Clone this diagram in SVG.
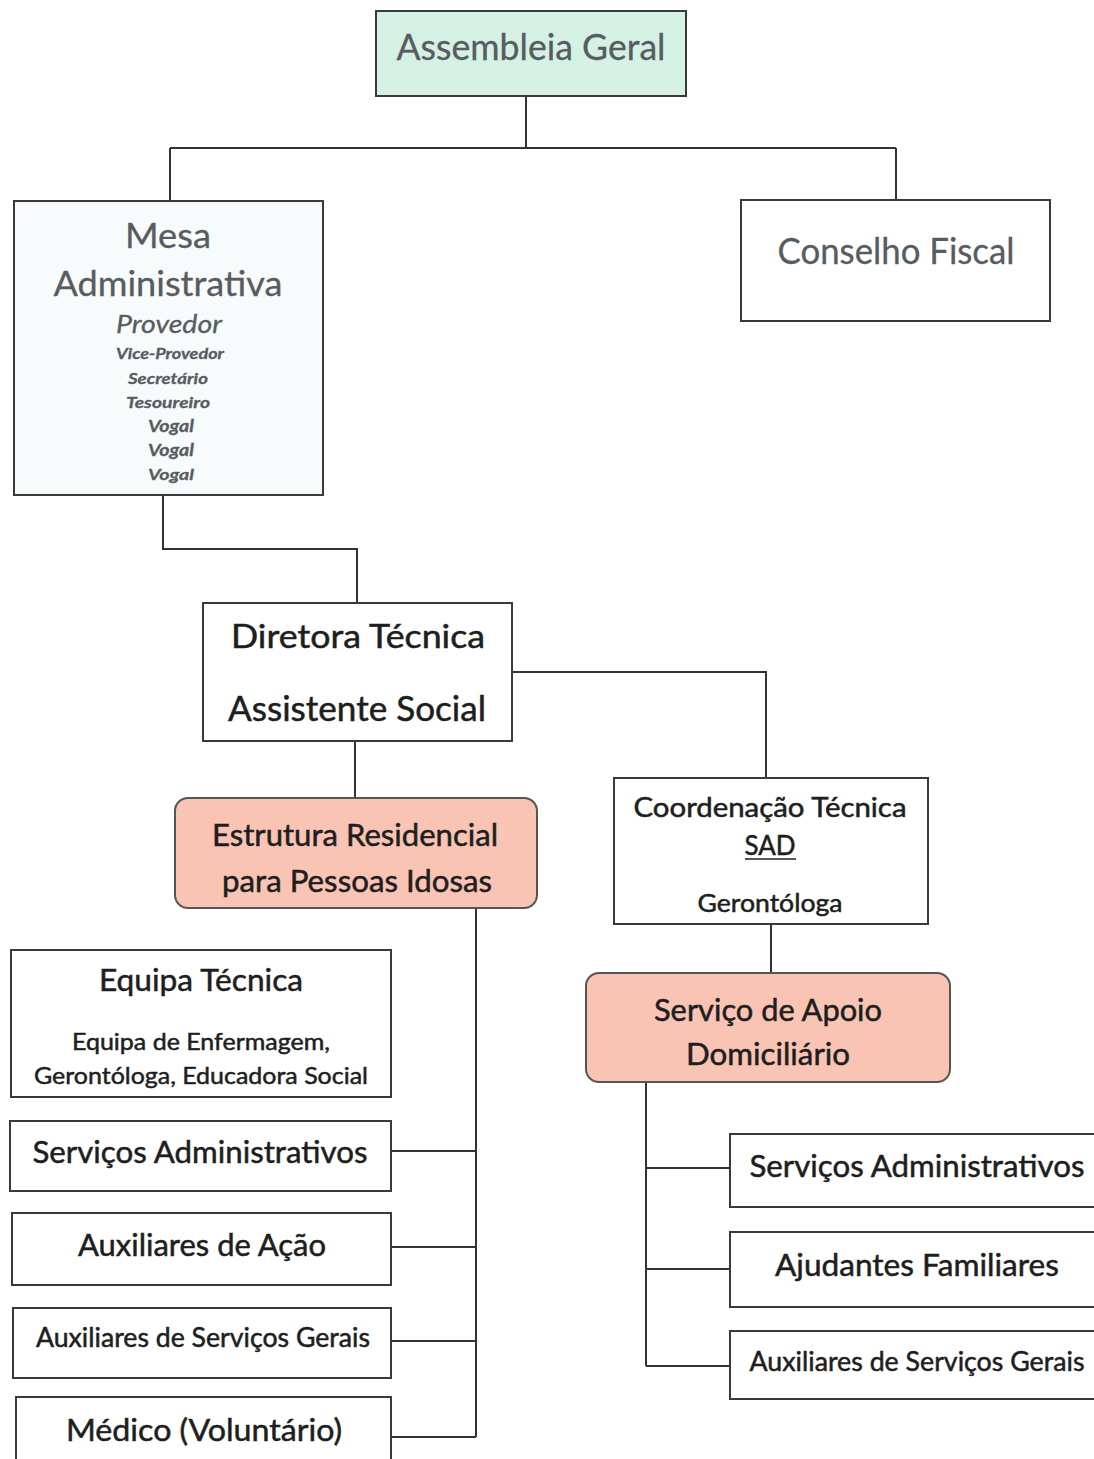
<svg xmlns="http://www.w3.org/2000/svg" width="1094" height="1459" viewBox="0 0 1094 1459">
<style>
.box{fill:#ffffff;stroke:#3a3a3a;stroke-width:2}
.green{fill:#d5f1e4}
.mesa{fill:#f8fbfb}
.salmon{fill:#f9c4b3;stroke:#555;stroke-width:2}
.t{font-family:Lato,"Open Sans","Liberation Sans",sans-serif;text-anchor:middle;fill:#1e1e1e;stroke:#1e1e1e;stroke-width:0.5}
.g{fill:#575c62;stroke:#575c62;stroke-width:0.3}
.it{font-style:italic}
.con{fill:none;stroke:#333;stroke-width:2}
</style>
<rect width="1094" height="1459" fill="#ffffff"/>
<g id="connectors">
<path class="con" d="M526 96V148M170 148H896M170 148V201M896 148V200"/>
<path class="con" d="M163 495V549H357V603"/>
<path class="con" d="M512 672H766V778"/>
<path class="con" d="M355 741V798"/>
<path class="con" d="M476 908V1437M391 1151H476M391 1247H476M391 1341H476M391 1437H476"/>
<path class="con" d="M771 924V973"/>
<path class="con" d="M646 1082V1366M646 1168H730M646 1269H730M646 1366H730"/>
</g>
<g id="assembleia">
<rect class="box green" x="376" y="11" width="310" height="85"/>
<text class="t g" x="531" y="60" font-size="36" textLength="269" lengthAdjust="spacingAndGlyphs">Assembleia Geral</text>
</g>
<g id="mesa">
<rect class="box mesa" x="14" y="201" width="309" height="294"/>
<text class="t g" x="168" y="248" font-size="34" textLength="86" lengthAdjust="spacingAndGlyphs">Mesa</text>
<text class="t g" x="168" y="296" font-size="34" textLength="229" lengthAdjust="spacingAndGlyphs">Administrativa</text>
<text class="t g it" x="169" y="333" font-size="26" textLength="106" lengthAdjust="spacingAndGlyphs">Provedor</text>
<text class="t g it" x="170" y="359" font-size="15" font-weight="bold" textLength="108" lengthAdjust="spacingAndGlyphs">Vice-Provedor</text>
<text class="t g it" x="168" y="384" font-size="16" font-weight="bold" textLength="80" lengthAdjust="spacingAndGlyphs">Secretário</text>
<text class="t g it" x="168" y="408" font-size="16" font-weight="bold" textLength="84" lengthAdjust="spacingAndGlyphs">Tesoureiro</text>
<text class="t g it" x="171" y="432" font-size="17" font-weight="bold" textLength="46" lengthAdjust="spacingAndGlyphs">Vogal</text>
<text class="t g it" x="171" y="456" font-size="17" font-weight="bold" textLength="46" lengthAdjust="spacingAndGlyphs">Vogal</text>
<text class="t g it" x="171" y="480" font-size="16" font-weight="bold" textLength="46" lengthAdjust="spacingAndGlyphs">Vogal</text>
</g>
<g id="conselho">
<rect class="box" x="741" y="200" width="309" height="121"/>
<text class="t g" x="896" y="264" font-size="36" textLength="237" lengthAdjust="spacingAndGlyphs">Conselho Fiscal</text>
</g>
<g id="diretora">
<rect class="box" x="203" y="603" width="309" height="138"/>
<text class="t" x="358" y="648" font-size="32" textLength="254" lengthAdjust="spacingAndGlyphs">Diretora Técnica</text>
<text class="t" x="357" y="721" font-size="34" textLength="258" lengthAdjust="spacingAndGlyphs">Assistente Social</text>
</g>
<g id="erpi">
<rect class="salmon" x="175" y="798" width="362" height="110" rx="13"/>
<text class="t" x="355" y="846" font-size="30" textLength="286" lengthAdjust="spacingAndGlyphs">Estrutura Residencial</text>
<text class="t" x="357" y="892" font-size="30" textLength="270" lengthAdjust="spacingAndGlyphs">para Pessoas Idosas</text>
</g>
<g id="coordenacao">
<rect class="box" x="614" y="778" width="314" height="146"/>
<text class="t" x="770" y="817" font-size="26" textLength="273" lengthAdjust="spacingAndGlyphs">Coordenação Técnica</text>
<text class="t" x="770" y="855" font-size="26" textLength="51" lengthAdjust="spacingAndGlyphs">SAD</text>
<line x1="745" y1="859" x2="796" y2="859" stroke="#1e1e1e" stroke-width="1.5"/>
<text class="t" x="770" y="912" font-size="25" textLength="145" lengthAdjust="spacingAndGlyphs">Gerontóloga</text>
</g>
<g id="sad">
<rect class="salmon" x="586" y="973" width="364" height="109" rx="13"/>
<text class="t" x="768" y="1021" font-size="30" textLength="228" lengthAdjust="spacingAndGlyphs">Serviço de Apoio</text>
<text class="t" x="768" y="1065" font-size="30" textLength="164" lengthAdjust="spacingAndGlyphs">Domiciliário</text>
</g>
<g id="equipa">
<rect class="box" x="11" y="950" width="380" height="147"/>
<text class="t" x="201" y="991" font-size="30" textLength="204" lengthAdjust="spacingAndGlyphs">Equipa Técnica</text>
<text class="t" x="201" y="1050" font-size="24" textLength="258" lengthAdjust="spacingAndGlyphs">Equipa de Enfermagem,</text>
<text class="t" x="201" y="1084" font-size="24" textLength="334" lengthAdjust="spacingAndGlyphs">Gerontóloga, Educadora Social</text>
</g>
<g id="servadm-l">
<rect class="box" x="10" y="1121" width="381" height="70"/>
<text class="t" x="200" y="1163" font-size="30" textLength="335" lengthAdjust="spacingAndGlyphs">Serviços Administrativos</text>
</g>
<g id="auxacao">
<rect class="box" x="12" y="1213" width="379" height="72"/>
<text class="t" x="202" y="1256" font-size="30" textLength="248" lengthAdjust="spacingAndGlyphs">Auxiliares de Ação</text>
</g>
<g id="auxger-l">
<rect class="box" x="13" y="1308" width="378" height="70"/>
<text class="t" x="203" y="1347" font-size="26" textLength="334" lengthAdjust="spacingAndGlyphs">Auxiliares de Serviços Gerais</text>
</g>
<g id="medico">
<rect class="box" x="16" y="1397" width="375" height="70"/>
<text class="t" x="204" y="1441" font-size="30" textLength="276" lengthAdjust="spacingAndGlyphs">Médico (Voluntário)</text>
</g>
<g id="servadm-r">
<rect class="box" x="730" y="1134" width="370" height="73"/>
<text class="t" x="917" y="1177" font-size="30" textLength="335" lengthAdjust="spacingAndGlyphs">Serviços Administrativos</text>
</g>
<g id="ajudantes">
<rect class="box" x="730" y="1232" width="370" height="75"/>
<text class="t" x="917" y="1276" font-size="30" textLength="284" lengthAdjust="spacingAndGlyphs">Ajudantes Familiares</text>
</g>
<g id="auxger-r">
<rect class="box" x="730" y="1331" width="370" height="68"/>
<text class="t" x="917" y="1371" font-size="26" textLength="335" lengthAdjust="spacingAndGlyphs">Auxiliares de Serviços Gerais</text>
</g>
</svg>
